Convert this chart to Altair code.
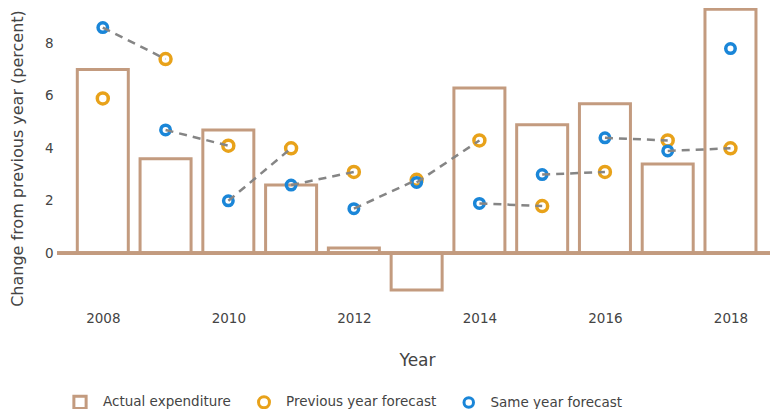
import altair as alt
import pandas as pd

years = list(range(2008, 2019))
actual = [7.0, 3.6, 4.7, 2.6, 0.2, -1.4, 6.3, 4.9, 5.7, 3.4, 9.3]
prev_forecast = [5.9, 7.4, 4.1, 4.0, 3.1, 2.8, 4.3, 1.8, 3.1, 4.3, 4.0]
same_forecast = [8.6, 4.7, 2.0, 2.6, 1.7, 2.7, 1.9, 3.0, 4.4, 3.9, 7.8]
series_names = ["Actual expenditure", "Previous year forecast", "Same year forecast"]
series_colors = ["#c39b7f", "#e8a21a", "#1a86d8"]
x_ticks = [2008, 2010, 2012, 2014, 2016, 2018]

FONT = "DejaVu Sans"
TEXT = "#444444"

bars_df = pd.DataFrame({"year": years, "value": actual, "series": series_names[0]})
pts_df = pd.concat([
    pd.DataFrame({"year": years, "value": prev_forecast, "series": series_names[1], "order": 1}),
    pd.DataFrame({"year": years, "value": same_forecast, "series": series_names[2], "order": 2}),
])
seg_rows = []
for i in range(len(years) - 1):
    seg_rows.append({"seg": i, "year": years[i], "value": same_forecast[i], "k": 0})
    seg_rows.append({"seg": i, "year": years[i + 1], "value": prev_forecast[i + 1], "k": 1})
seg_df = pd.DataFrame(seg_rows)

xscale = alt.Scale(domain=[2007.35, 2018.55], nice=False, zero=False)
yscale = alt.Scale(domain=[-2.007, 9.345], nice=False, zero=False)

legend_kw = dict(
    title=None, orient="none", direction="horizontal",
    legendX=15, legendY=386, symbolStrokeWidth=3,
    symbolFillColor="white", labelFont=FONT, labelFontSize=13.5,
    labelColor=TEXT, labelOffset=15, columnPadding=21, padding=0,
)

stroke_enc = alt.Stroke(
    "series:N",
    scale=alt.Scale(domain=series_names, range=series_colors),
    legend=alt.Legend(**legend_kw),
)
shape_enc = alt.Shape(
    "series:N",
    scale=alt.Scale(domain=series_names, range=["square", "circle", "circle"]),
    legend=alt.Legend(**legend_kw),
)
size_enc = alt.Size(
    "series:N",
    scale=alt.Scale(domain=series_names, range=[150, 90, 90]),
    legend=alt.Legend(**legend_kw),
)

x_axis = alt.Axis(
    values=x_ticks, format="d", title="Year", ticks=False, domain=False, grid=False,
    labelFont=FONT, labelFontSize=13.5, labelColor=TEXT, labelPadding=5,
    titleFont=FONT, titleFontSize=17, titleFontWeight="normal", titleColor=TEXT,
    titleX=360, titleY=54, titleBaseline="middle", titleAlign="center",
)
y_axis = alt.Axis(
    values=[0, 2, 4, 6, 8], title="Change from previous year (percent)", ticks=False,
    domain=False, grid=False, labelFont=FONT, labelFontSize=13.5, labelColor=TEXT,
    labelPadding=4, titleFont=FONT, titleFontSize=16, titleFontWeight="normal",
    titleColor=TEXT, titleX=-40, titleY=150, titleAngle=-90, titleBaseline="middle",
    titleAlign="center",
)

bars = alt.Chart(bars_df).mark_bar(size=51, fill="white", fillOpacity=0, strokeWidth=3).encode(
    x=alt.X("year:Q", scale=xscale, axis=x_axis),
    y=alt.Y("value:Q", scale=yscale, axis=y_axis),
    stroke=stroke_enc,
)

zero = alt.Chart(bars_df).mark_rule(color=series_colors[0], strokeWidth=3).encode(
    y=alt.datum(0, scale=yscale),
)

points = alt.Chart(pts_df).mark_point(filled=False, strokeWidth=3.5, opacity=1).encode(
    x=alt.X("year:Q", scale=xscale),
    y=alt.Y("value:Q", scale=yscale),
    stroke=stroke_enc,
    shape=shape_enc,
    size=size_enc,
    order=alt.Order("order:Q"),
)

lines = alt.Chart(seg_df).mark_line(color="#858585", strokeWidth=2.5, strokeDash=[8, 6]).encode(
    x=alt.X("year:Q", scale=xscale),
    y=alt.Y("value:Q", scale=yscale),
    detail="seg:N",
    order="k:Q",
)

chart = alt.layer(bars, zero, points, lines).properties(
    width=713, height=298,
    autosize=alt.AutoSizeParams(type="none"),
    padding={"left": 49, "top": 0, "right": 0, "bottom": 103},
).configure(font=FONT).configure_view(stroke=None)

chart.save("out.html", embed_options={"renderer": "svg", "actions": False})
